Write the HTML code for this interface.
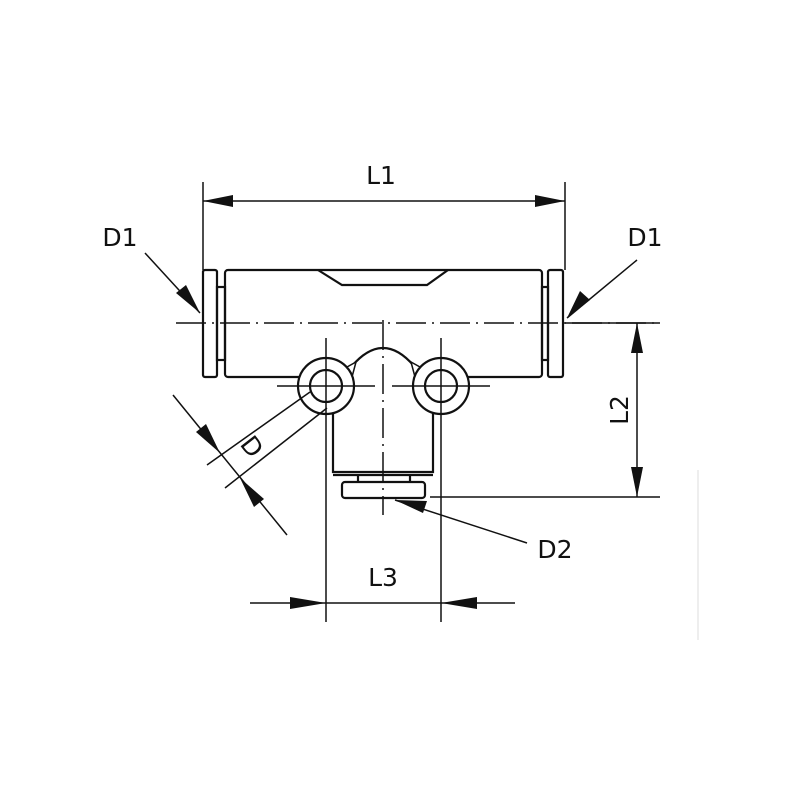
<!DOCTYPE html>
<html><head><meta charset="utf-8"><style>html,body{margin:0;padding:0;background:#fff}svg{display:block}</style></head>
<body>
<svg width="800" height="800" viewBox="0 0 800 800" xmlns="http://www.w3.org/2000/svg" font-family="DejaVu Sans, Liberation Sans, sans-serif">
<g fill="none" stroke="#111" stroke-width="2.2">
<!-- rings -->
<rect x="203" y="270" width="14" height="107" rx="2"/>
<rect x="217" y="287" width="8" height="73"/>
<rect x="225" y="270" width="317" height="107" rx="3"/>
<rect x="542" y="287" width="6" height="73"/>
<rect x="548" y="270" width="15" height="107" rx="2"/>
<!-- notch -->
<polyline points="318,270 342,285 427,285 448,270"/>
<!-- stem -->
<path d="M333,405 V472 H433 V405"/>
<line x1="333" y1="475" x2="433" y2="475"/>
<line x1="358" y1="475" x2="358" y2="482"/>
<line x1="410" y1="475" x2="410" y2="482"/>
<rect x="342" y="482" width="83" height="16" rx="3"/>
<!-- dome area -->
<rect x="345" y="362" width="77" height="50" fill="#fff" stroke="none"/>
<path d="M352,366 Q383,330 414,366"/>
<polygon points="347,367 356,362 352,377" fill="#fff" stroke-width="1.5"/>
<polygon points="420,367 411,362 415,377" fill="#fff" stroke-width="1.5"/>
<!-- bosses -->
<circle cx="326" cy="386" r="28" fill="#fff"/>
<circle cx="326" cy="386" r="16"/>
<circle cx="441" cy="386" r="28" fill="#fff"/>
<circle cx="441" cy="386" r="16"/>
</g>
<g stroke="#111" stroke-width="1.5" fill="none">
<!-- centerlines -->
<line x1="176" y1="323" x2="660" y2="323" stroke-dasharray="30,6,2,6"/>
<line x1="383" y1="320" x2="383" y2="515" stroke-dasharray="30,6,2,6"/>
<line x1="277" y1="386" x2="375" y2="386"/>
<line x1="392" y1="386" x2="490" y2="386"/>
<line x1="326" y1="338" x2="326" y2="622"/>
<line x1="441" y1="338" x2="441" y2="622"/>
<!-- L1 -->
<line x1="203" y1="182" x2="203" y2="270"/>
<line x1="565" y1="182" x2="565" y2="270"/>
<line x1="203" y1="201" x2="565" y2="201"/>
<!-- L2 -->
<line x1="565" y1="323" x2="660" y2="323"/>
<line x1="430" y1="497" x2="660" y2="497"/>
<line x1="637" y1="323" x2="637" y2="497"/>
<!-- L3 -->
<line x1="250" y1="603" x2="515" y2="603"/>
<!-- D1 leaders -->
<line x1="145" y1="253" x2="200" y2="313"/>
<line x1="637" y1="260" x2="567" y2="318"/>
<!-- D2 -->
<line x1="395" y1="500" x2="527" y2="543"/>
<!-- D -->
<line x1="173" y1="395" x2="287" y2="535"/>
<line x1="310" y1="392" x2="207" y2="465"/>
<line x1="327" y1="408" x2="225" y2="488"/>
</g>
<g fill="#111">
<polygon points="203,201 233,195 233,207"/>
<polygon points="565,201 535,195 535,207"/>
<polygon points="637,323 631,353 643,353"/>
<polygon points="637,497 631,467 643,467"/>
<polygon points="326,603 290,597 290,609"/>
<polygon points="441,603 477,597 477,609"/>
<polygon points="200,313 176,293 186,285"/>
<polygon points="567,318 580,291 590,300"/>
<polygon points="395,500 427,501 423,513"/>
<polygon points="220,453 196,432 206,424"/>
<polygon points="240,478 264,499 254,507"/>
</g>
<g font-size="25" fill="#111" text-anchor="middle">
<text x="381" y="184">L1</text>
<text x="120" y="246">D1</text>
<text x="645" y="246">D1</text>
<text x="555" y="558">D2</text>
<text x="383" y="586">L3</text>
<text transform="translate(628,410) rotate(-90)">L2</text>
<text transform="translate(245,452) rotate(52)">D</text>
</g>
<line x1="698" y1="470" x2="698" y2="640" stroke="#ddd" stroke-width="1"/>
</svg>
</body></html>
